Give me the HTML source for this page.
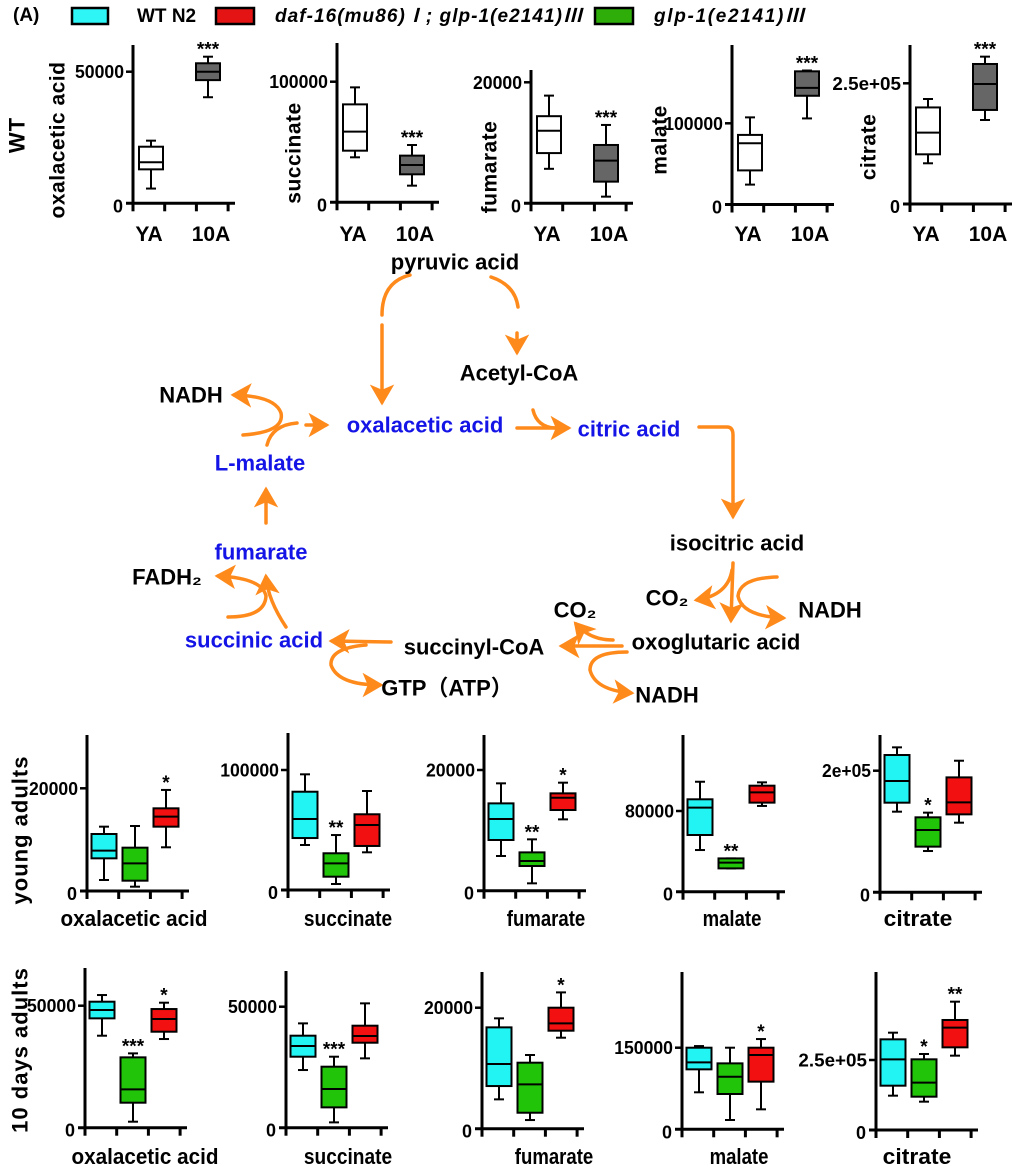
<!DOCTYPE html>
<html><head><meta charset="utf-8"><style>
html,body{margin:0;padding:0;background:#fff}
svg text{font-family:"Liberation Sans","Noto Sans CJK SC",sans-serif;font-weight:bold}
</style></head><body>
<svg id="fig" width="1020" height="1171" viewBox="0 0 1020 1171" xmlns="http://www.w3.org/2000/svg">
<defs>
<marker id="ah" markerWidth="7" markerHeight="7" refX="5" refY="3.5" orient="auto" markerUnits="strokeWidth"><path d="M0,0 L6,3.5 L0,7 L1.5,3.5 Z" fill="#ff8a1c"/></marker>
</defs>
<g>
<text x="13" y="21" font-size="19">(A)</text>
<rect x="72" y="8" width="36" height="16" fill="#2ef6f6" stroke="#000" stroke-width="2.5"/>
<text x="137" y="22" font-size="19">WT N2</text>
<rect x="216" y="8" width="38" height="16" fill="#e41414" stroke="#000" stroke-width="2.5"/>
<text x="275" y="22" font-size="19" font-style="italic" textLength="307">daf-16(mu86)Ⅰ; glp-1(e2141)Ⅲ</text>
<rect x="595" y="8" width="38" height="16" fill="#2fae0a" stroke="#000" stroke-width="2.5"/>
<text x="654" y="22" font-size="19" font-style="italic" textLength="150">glp-1(e2141)Ⅲ</text>
</g>
<g id="pathway" fill="none" stroke="#ff8a1c" stroke-width="3.5" stroke-linecap="round"></g>
<g id="charts"></g>
</svg>
<script>
// ---- data: [min, q1, median, q3, max] per box ----
const wtOxa = [[5600,12900,15600,21500,23800],[40300,46800,50000,53200,55700]];
const wtSuc = [[37300,42800,58600,81200,95300],[13800,23200,30900,38700,47500]];
const wtFum = [[5700,8300,12000,14400,17800],[1100,3580,7050,9640,12950]];
const wtMal = [[24500,42000,75500,85700,107300],[106000,133900,143700,164000,165000]];
const wtCit = [[84300,102900,147800,200000,217500],[174000,194800,248600,290000,305200]];
const wtStars = ['','***','','***','','***','','***','','***'];

const yaOxa = [[2140,6360,7860,11100,12530],[840,2010,5390,8440,12660],[8510,12530,14480,16100,19680]];
const yaSuc = [[37500,43300,59200,81900,96400],[5000,11100,22200,30600,45800],[31400,36700,54200,63100,82500]];
const yaFum = [[5750,8400,11880,14470,17790],[1220,4090,4920,6350,8510],[11820,13370,15410,16130,17900]];
const yaMal = [[41300,56200,83300,91600,109000],[23100,23100,28800,33000,33000],[85000,88300,98500,105100,108400]];
const yaCit = [[132600,147400,183000,225800,238400],[67900,75100,102500,123300,131000],[114500,128200,148000,189000,216400]];
const yaStars = [['','','*'],['','**',''],['','**','*'],['','**',''],['','*','']];

const daOxa = [[37700,44810,48220,51640,54370],[2460,10250,15710,28830,30460],[36340,39340,44540,48630,51230]];
const daSuc = [[23830,29340,33750,38020,43110],[2200,8400,15980,25210,29340],[28650,35120,37880,42150,51380]];
const daFum = [[4850,7050,10690,16750,18240],[1430,2640,7330,10910,12180],[15040,16200,17410,20000,22530]];
const daMal = [[68000,110200,123100,150000,153000],[17100,64900,96700,121200,150000],[36700,87600,136500,150000,165900]];
const daCit = [[122600,158300,252400,323800,347600],[101200,119000,169000,252400,271400],[265500,295200,365500,392900,458300]];
const daStars = [['','***','*'],['','***',''],['','','*'],['','','*'],['','*','**']];

const tickVals = [50000,100000,20000,100000,250000, 20000,100000,20000,80000,200000, 50000,50000,20000,150000,250000];
const tickLabels = ['50000','100000','20000','100000','2.5e+05','20000','100000','20000','80000','2e+05','50000','50000','20000','150000','2.5e+05'];
const metabolites = ['oxalacetic acid','succinate','fumarate','malate','citrate'];
const groupLabels = ['YA','10A'];

const NS='http://www.w3.org/2000/svg';
const charts=document.getElementById('charts');
function mk(tag,attrs,parent){const e=document.createElementNS(NS,tag);for(const k in attrs)e.setAttribute(k,attrs[k]);(parent||charts).appendChild(e);return e;}

const rows=[
 {axX:[133,337,531,732,910],base:[203.3,202.3,203.3,204.5,204],tickY:[71.7,81.7,82.3,123.3,83.3],top:[45,43,70,45,45],offs:[18,75],bw:24,fills:['#ffffff','#666666'],data:[wtOxa,wtSuc,wtFum,wtMal,wtCit],stars:null,row:0},
 {axX:[87,288,484,683,880],base:[891,890,890.7,891.7,892.3],tickY:[788.3,770,770,811,770.7],top:[735,733,735,735,735],offs:[17,48,79],bw:25,fills:['#22f4f4','#22c40a','#f21010'],data:[yaOxa,yaSuc,yaFum,yaMal,yaCit],stars:yaStars,row:1},
 {axX:[85,286,482,682,876],base:[1127.7,1127.7,1128.7,1129.3,1130],tickY:[1005.7,1006.7,1007.7,1047.7,1060],top:[968,971,972,972,972],offs:[17,48,79],bw:25,fills:['#22f4f4','#22c40a','#f21010'],data:[daOxa,daSuc,daFum,daMal,daCit],stars:daStars,row:2}
];

rows.forEach((R,ri)=>{
 for(let p=0;p<5;p++){
  const g=mk('g',{});
  
  
  const ax=R.axX[p],b=R.base[p],ty=R.tickY[p],tv=tickVals[ri*5+p];
  const y=v=>b-v/tv*(b-ty);
  const ya=mk('line',{x1:ax,y1:R.top[p],x2:ax,y2:b+1.5,stroke:'#000','stroke-width':3},g);
  
  
  const xa=mk('line',{x1:ax-7,y1:b,x2:ax+102,y2:b,stroke:'#000','stroke-width':3},g);
  
  
  for(let t=0;t<4;t++){const tk=mk('line',{x1:ax+t*31.7,y1:b,x2:ax+t*31.7,y2:b+8,stroke:'#000','stroke-width':3},g);
   
   }
  const yt=mk('line',{x1:ax-7,y1:ty,x2:ax,y2:ty,stroke:'#000','stroke-width':2.5},g);
  
  
  const l0=mk('text',{x:ax-10,y:b+9,'font-size':18,'text-anchor':'end',textLength:10,lengthAdjust:'spacingAndGlyphs'},g);l0.textContent='0';
  
  
  const tl=tickLabels[ri*5+p];
  const l1=mk('text',{x:ax-9,y:ty+6.5,'font-size':18,'text-anchor':'end',textLength:tl.length*9.8,lengthAdjust:'spacingAndGlyphs'},g);l1.textContent=tl;
  
  
  R.data[p].forEach((s,k)=>{
   const cx=ax+R.offs[k],hw=R.bw/2;
   const bg=mk('g',{},g);
   
   
   mk('line',{x1:cx,y1:y(s[0]),x2:cx,y2:y(s[4]),stroke:'#000','stroke-width':2},bg);
   mk('line',{x1:cx-5,y1:y(s[0]),x2:cx+5,y2:y(s[0]),stroke:'#000','stroke-width':2},bg);
   mk('line',{x1:cx-5,y1:y(s[4]),x2:cx+5,y2:y(s[4]),stroke:'#000','stroke-width':2},bg);
   mk('rect',{x:cx-hw,y:y(s[3]),width:R.bw,height:Math.max(1,y(s[1])-y(s[3])),fill:R.fills[k],stroke:'#000','stroke-width':2},bg);
   mk('line',{x1:cx-hw,y1:y(s[2]),x2:cx+hw,y2:y(s[2]),stroke:'#000','stroke-width':2},bg);
   const st=R.stars?R.stars[p][k]:wtStars[p*2+k];
   if(st){const t=mk('text',{x:cx,y:y(s[4])-1,'font-size':19,'text-anchor':'middle'},bg);t.textContent=st;
    
    }
  });
  if(ri===0){
   groupLabels.forEach((gl,k)=>{const t=mk('text',{x:ax+R.offs[k]+ (k?3:-2),y:241,'font-size':21,'text-anchor':'middle'},g);t.textContent=gl;
    
    });
   const lx=[58,294,490,660,869][p],ly=[140,153,167,140,147][p];
   const t=mk('text',{x:lx,y:ly,'font-size':21,'text-anchor':'middle','dominant-baseline':'central',transform:'rotate(-90 '+lx+' '+ly+')','letter-spacing':'0.5'},g);
   t.textContent=metabolites[p];
   
   
  } else {
   const lx=ri===1?[134,348,546,732,918][p]:[145,348,554,739,917][p];
   const t=mk('text',{x:lx,y:ri===1?926:1164,'font-size':22,'text-anchor':'middle',textLength:metabolites[p].length*9.8,lengthAdjust:'spacingAndGlyphs'},g);
   t.textContent=metabolites[p];
   
   
  }
 }
});
[['WT',17,135],['young adults',20,830],['10 days adults',20,1050]].forEach(r=>{
 const t=mk('text',{x:r[1],y:r[2],'font-size':22,'text-anchor':'middle','dominant-baseline':'central','letter-spacing':'1',transform:'rotate(-90 '+r[1]+' '+r[2]+')'});
 t.textContent=r[0];
 
 
});

const pw=document.getElementById('pathway');
const paths=[
 ['M410,275 Q382,282 382,315',0],['M382,325 L382,402',1],
 ['M491,277 Q515,285 518,307',0],['M517,333 L517,352',1],
 ['M243,435 Q285,432 281,413 Q275,396 234,395',1],['M267,445 Q272,425 297,423',0],['M306,425 L326,425',1],
 ['M533,410 Q537,427 555,428',0],['M517,428 L568,428',1],
 ['M699,427 L727,427 Q733,427 733,435 L733,516',1],
 ['M733,563 L731,620',1],['M732,570 Q728,595 697,600',1],['M777,577 Q740,578 738,596 Q742,616 783,618',1],
 ['M622,646 L562,646',1],['M613,640 Q590,640 576,624',1],['M627,652 Q590,652 590,670 Q595,690 631,693',1],
 ['M391,642 L332,641',1],['M366,645 Q330,648 331,665 Q338,685 380,685',1],
 ['M286,627 Q268,600 266,577',1],['M228,617 Q265,617 266,596 Q262,578 218,576',1],
 ['M266,523 L266,490',1]
];
paths.forEach((d,i)=>{const e=document.createElementNS(NS,'path');e.setAttribute('d',d[0]);if(d[1])e.setAttribute('marker-end','url(#ah)');
 
 
 pw.appendChild(e);});
const labels=[
 ['pyruvic acid',455,262,'#000'],['Acetyl-CoA',519,373,'#000'],['NADH',191,395,'#000'],
 ['oxalacetic acid',425,425,'#1414e6'],['citric acid',629,429,'#1414e6'],['L-malate',260,463,'#1414e6'],
 ['isocitric acid',737,543,'#000'],['fumarate',261,552,'#1414e6'],['FADH₂',167,577,'#000'],
 ['succinic acid',254,640,'#1414e6'],['succinyl-CoA',474,647,'#000'],['oxoglutaric acid',716,642,'#000'],
 ['CO₂',575,610,'#000'],['CO₂',667,598,'#000'],['NADH',830,610,'#000'],['GTP（ATP）',447,688,'#000'],['NADH',667,695,'#000']
];
labels.forEach(l=>{const t=document.createElementNS(NS,'text');
 t.setAttribute('x',l[1]);t.setAttribute('y',l[2]);t.setAttribute('text-anchor','middle');t.setAttribute('dominant-baseline','central');
 t.setAttribute('font-size','22');t.setAttribute('fill',l[3]);t.setAttribute('stroke','none');t.textContent=l[0];
 
 
 document.getElementById('fig').appendChild(t);});
</script>
</body></html>
